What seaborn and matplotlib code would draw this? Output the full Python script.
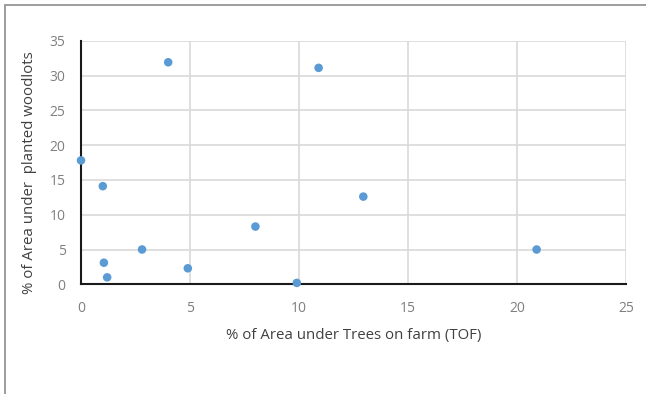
import matplotlib
matplotlib.use("Agg")
import matplotlib.pyplot as plt
from matplotlib.patches import Rectangle
import seaborn as sns
import pandas as pd

# Share of area under trees on farm vs. planted woodlots (%)
tof_pct = [0.0, 1.0, 4.0, 10.9, 12.95, 1.05, 1.2, 2.8, 4.9, 8.0, 9.9, 20.9]
woodlot_pct = [17.8, 14.1, 31.9, 31.1, 12.6, 3.1, 1.0, 5.0, 2.3, 8.3, 0.2, 5.0]
x_ticks = [0, 5, 10, 15, 20, 25]
y_ticks = [0, 5, 10, 15, 20, 25, 30, 35]

df = pd.DataFrame({"tof": tof_pct, "woodlot": woodlot_pct})

sns.set_theme(style="white")
plt.rcParams["font.family"] = ["Open Sans", "DejaVu Sans"]

fig = plt.figure(figsize=(6.46, 3.94), dpi=100)
ax = fig.add_axes([81 / 646, 1 - 284.3 / 394, 545 / 646, 243.6 / 394])

# outer chart frame
fig.patches.append(Rectangle((5.3 / 646, -0.2), 1.2, 1 - 5.3 / 394 + 0.2,
                             transform=fig.transFigure, fill=False,
                             edgecolor="#8c8c8c", linewidth=1.2))

grid_c = "#d9d9d9"
for v in x_ticks[1:]:
    ax.axvline(v, color=grid_c, linewidth=1.2, zorder=0)
for v in y_ticks[1:]:
    ax.axhline(v, color=grid_c, linewidth=1.2, zorder=0)

sns.scatterplot(data=df, x="tof", y="woodlot", ax=ax, color="#5b9bd5",
                s=38, edgecolor="none", zorder=3, clip_on=False)

ax.set_xlim(0, 25)
ax.set_ylim(0, 35)
ax.set_xticks(x_ticks)
ax.set_yticks(y_ticks)
ax.tick_params(axis="both", length=0, labelsize=10, labelcolor="#7f7f7f")
ax.tick_params(axis="x", pad=12)
ax.tick_params(axis="y", pad=11)

for side in ["top", "right"]:
    ax.spines[side].set_visible(False)
for side in ["left", "bottom"]:
    ax.spines[side].set_color("#1a1a1a")
    ax.spines[side].set_linewidth(1.5)

ax.set_xlabel("% of Area under Trees on farm (TOF)", fontsize=10.8,
              color="#404040", labelpad=9)
ax.set_ylabel("% of Area under  planted woodlots", fontsize=10.8,
              color="#404040")
ax.yaxis.set_label_coords(-0.08, 0.457)

fig.savefig("out.png", dpi=100, facecolor="white")
